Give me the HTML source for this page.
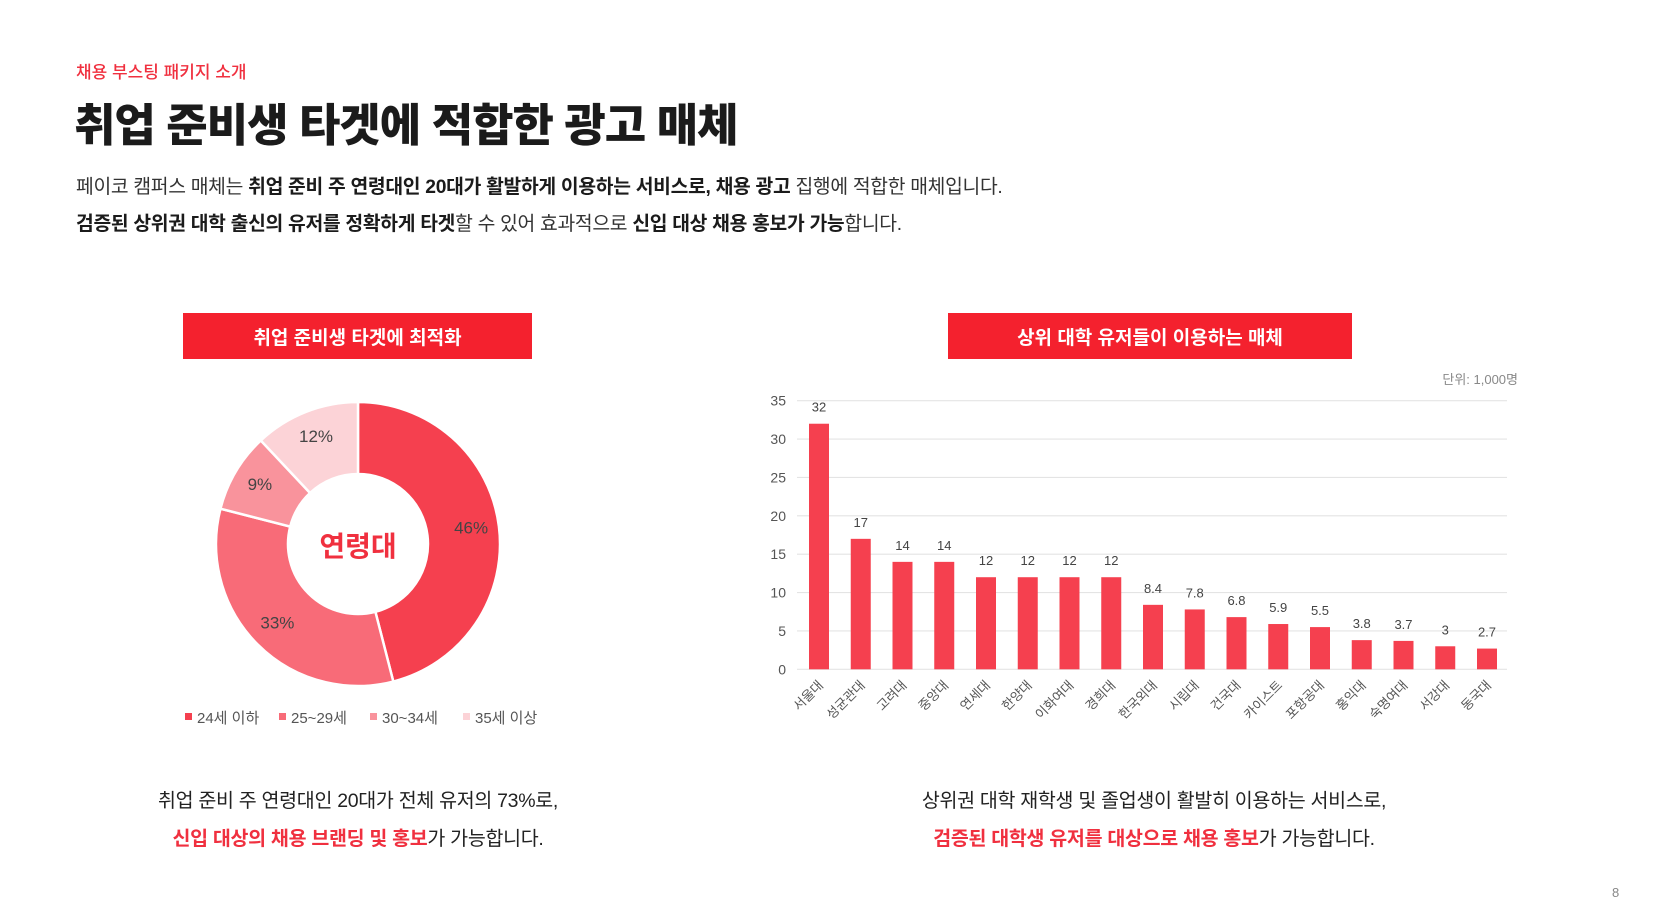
<!DOCTYPE html>
<html lang="ko"><head><meta charset="utf-8">
<style>
body{margin:0;width:1659px;height:919px;background:#fff;position:relative;overflow:hidden;font-family:"Liberation Sans","Noto Sans CJK KR",sans-serif;color:#222}
.abs{position:absolute}
.kicker{left:76px;top:58px;font-size:17px;color:#f0303f;font-weight:500}
h1{position:absolute;left:74px;top:89px;margin:0;font-size:45px;font-weight:900;letter-spacing:-1px;color:#1b1b1b}
.p{left:76px;font-size:19.3px;color:#333;white-space:nowrap;letter-spacing:-0.3px}
.p b{color:#1b1b1b;font-weight:700}
.hdr{top:313px;height:46px;background:#f4212e;color:#fff;font-size:19px;font-weight:700;display:flex;align-items:center;justify-content:center}
.cap{font-size:19.5px;text-align:center;white-space:nowrap;letter-spacing:-0.3px;color:#222}
.cap b{color:#f0303f}
</style></head><body>
<div class="abs kicker">채용 부스팅 패키지 소개</div>
<h1>취업 준비생 타겟에 적합한 광고 매체</h1>
<div class="abs p" style="top:171px">페이코 캠퍼스 매체는 <b>취업 준비 주 연령대인 20대가 활발하게 이용하는 서비스로, 채용 광고</b> 집행에 적합한 매체입니다.</div>
<div class="abs p" style="top:208px"><b>검증된 상위권 대학 출신의 유저를 정확하게 타겟</b>할 수 있어 효과적으로 <b>신입 대상 채용 홍보가 가능</b>합니다.</div>

<div class="abs hdr" style="left:183px;width:349px">취업 준비생 타겟에 최적화</div>
<div class="abs hdr" style="left:948px;width:404px">상위 대학 유저들이 이용하는 매체</div>

<svg class="abs" style="left:0;top:0" width="1659" height="919">
<g id="donut"></g>
<g id="bars"></g>
</svg>

<div class="abs cap" style="left:58px;width:600px;top:784px">취업 준비 주 연령대인 20대가 전체 유저의 73%로,</div>
<div class="abs cap" style="left:58px;width:600px;top:822px"><b>신입 대상의 채용 브랜딩 및 홍보</b>가 가능합니다.</div>
<div class="abs cap" style="left:854px;width:600px;top:784px">상위권 대학 재학생 및 졸업생이 활발히 이용하는 서비스로,</div>
<div class="abs cap" style="left:854px;width:600px;top:822px"><b>검증된 대학생 유저를 대상으로 채용 홍보</b>가 가능합니다.</div>
<div class="abs" style="left:1612px;top:885px;font-size:13px;color:#888">8</div>

<script>
const ageLabels=["24세 이하","25~29세","30~34세","35세 이상"];
const ageValues=[46,33,9,12];
const ageColors=["#f5404f","#f86b78","#f9939c","#fcd3d7"];
const uniNames=["서울대","성균관대","고려대","중앙대","연세대","한양대","이화여대","경희대","한국외대","시립대","건국대","카이스트","포항공대","홍익대","숙명여대","서강대","동국대"];
const uniValues=[32,17,14,14,12,12,12,12,8.4,7.8,6.8,5.9,5.5,3.8,3.7,3,2.7];
const yTicks=[0,5,10,15,20,25,30,35];

const NS="http://www.w3.org/2000/svg";
function mk(tag,attrs,parent){const e=document.createElementNS(NS,tag);for(const k in attrs)e.setAttribute(k,attrs[k]);parent.appendChild(e);return e;}

// Donut
const dg=document.getElementById('donut');
const cx=358,cy=544,R=142,r=70;
const total=ageValues.reduce((a,b)=>a+b,0);
let a0=-Math.PI/2;
ageValues.forEach((v,i)=>{
  const a1=a0+v/total*Math.PI*2;
  const large=(a1-a0)>Math.PI?1:0;
  const p=(ang,rad)=>[cx+rad*Math.cos(ang),cy+rad*Math.sin(ang)];
  const [x1,y1]=p(a0,R),[x2,y2]=p(a1,R),[x3,y3]=p(a1,r),[x4,y4]=p(a0,r);
  const s=mk('path',{d:`M${x1},${y1}A${R},${R} 0 ${large} 1 ${x2},${y2}L${x3},${y3}A${r},${r} 0 ${large} 0 ${x4},${y4}Z`,fill:ageColors[i],stroke:'#fff','stroke-width':2.5},dg);
  
  
  const am=(a0+a1)/2,lr=(R+r)/2+8;
  const t=mk('text',{x:cx+lr*Math.cos(am),y:cy+lr*Math.sin(am)+4,'text-anchor':'middle','font-size':17,fill:'#444'},dg);
  t.textContent=v+'%';
  
  
  a0=a1;
});
const ct=mk('text',{x:cx,y:cy+12,'text-anchor':'middle','font-size':28,'font-weight':700,fill:'#f0303f'},dg);
ct.textContent='연령대';


const legX=[185,279,370,463];
ageLabels.forEach((l,i)=>{
  const g=mk('g',{},dg);
  
  
  mk('rect',{x:legX[i],y:713,width:7,height:7,fill:ageColors[i]},g);
  const t=mk('text',{x:legX[i]+12,y:723,'font-size':15,fill:'#555'},g);
  t.textContent=l;
});

// Bars
const bg=document.getElementById('bars');
const x0=819,step=41.75,bw=20,gl=797,gr=1507;
const yS=v=>669.3-v*(669.3-400.7)/35;
yTicks.forEach(v=>{
  const l=mk('line',{x1:gl,x2:gr,y1:yS(v),y2:yS(v),stroke:'#e4e4e4','stroke-width':1.2},bg);
  
  
  const t=mk('text',{x:786,y:yS(v)+5,'text-anchor':'end','font-size':14,fill:'#555'},bg);
  t.textContent=v;
  
  
});
uniValues.forEach((v,i)=>{
  const c=x0+i*step;
  const b=mk('rect',{x:c-bw/2,y:yS(v),width:bw,height:yS(0)-yS(v),fill:'#f5404f'},bg);
  
  
  const t=mk('text',{x:c,y:yS(v)-12,'text-anchor':'middle','font-size':13,fill:'#444'},bg);
  t.textContent=v;
  
  
  const xl=mk('text',{x:c+5,y:686,'text-anchor':'end','font-size':13,fill:'#555',transform:`rotate(-45 ${c+5} 686)`},bg);
  xl.textContent=uniNames[i];
  
  
});
const u=mk('text',{x:1518,y:384,'text-anchor':'end','font-size':13,fill:'#888'},bg);
u.textContent='단위: 1,000명';


</script>
</body></html>
